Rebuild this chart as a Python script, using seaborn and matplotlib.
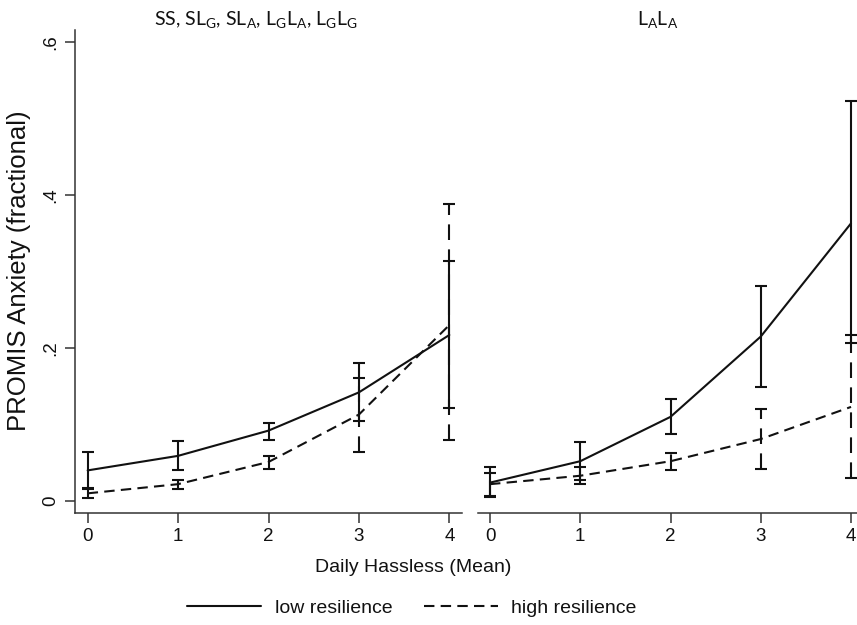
import numpy as np
import pandas as pd
import seaborn as sns
import matplotlib.pyplot as plt
from matplotlib.lines import Line2D

hassles = [0, 1, 2, 3, 4]
panel_titles = [
    "SS, SL$_\\mathregular{G}$, SL$_\\mathregular{A}$, "
    "L$_\\mathregular{G}$L$_\\mathregular{A}$, L$_\\mathregular{G}$L$_\\mathregular{G}$",
    "L$_\\mathregular{A}$L$_\\mathregular{A}$",
]
series_names = ["low resilience", "high resilience"]

# left panel: SS, SL_G, SL_A, L_GL_A, L_GL_G
low_mean_a = [0.040, 0.059, 0.092, 0.142, 0.217]
low_lo_a = [0.016, 0.041, 0.080, 0.105, 0.122]
low_hi_a = [0.064, 0.078, 0.102, 0.180, 0.314]
high_mean_a = [0.010, 0.022, 0.051, 0.113, 0.230]
high_lo_a = [0.004, 0.016, 0.042, 0.064, 0.080]
high_hi_a = [0.017, 0.028, 0.059, 0.161, 0.388]

# right panel: L_AL_A
low_mean_b = [0.024, 0.052, 0.110, 0.215, 0.363]
low_lo_b = [0.005, 0.027, 0.088, 0.149, 0.206]
low_hi_b = [0.044, 0.077, 0.133, 0.281, 0.523]
high_mean_b = [0.022, 0.033, 0.052, 0.081, 0.123]
high_lo_b = [0.007, 0.022, 0.041, 0.042, 0.030]
high_hi_b = [0.037, 0.044, 0.063, 0.120, 0.217]

yticks = [0, 0.2, 0.4, 0.6]
ytick_labels = ["0", ".2", ".4", ".6"]

panels = [
    {"low": (low_mean_a, low_lo_a, low_hi_a), "high": (high_mean_a, high_lo_a, high_hi_a)},
    {"low": (low_mean_b, low_lo_b, low_hi_b), "high": (high_mean_b, high_lo_b, high_hi_b)},
]

rows = []
for p, pan in enumerate(panels):
    for key, name in zip(["low", "high"], series_names):
        mean, lo, hi = pan[key]
        for x, m, l, h in zip(hassles, mean, lo, hi):
            rows.append({"panel": p, "hassle": x, "anxiety": m, "lo": l, "hi": h, "resilience": name})
df = pd.DataFrame(rows)

sns.set_style("ticks")
plt.rcParams["font.family"] = ["Liberation Sans", "DejaVu Sans"]
plt.rcParams["lines.scale_dashes"] = True

W, H = 857, 625
fig = plt.figure(figsize=(W / 100, H / 100), dpi=100)

LW = 1.5
DASH = (5, 3)
spine_col = "#333333"
ink = "#111111"

ax_boxes = [(75, 462), (478, 857)]
xlims = [(-0.14, 4.14), (-0.133, 4.066)]
top_px, bot_px = 30, 513
title_cx = [256, 658]

for p, (x0, x1) in enumerate(ax_boxes):
    ax = fig.add_axes([x0 / W, 1 - bot_px / H, (x1 - x0) / W, (bot_px - top_px) / H])
    sub = df[df.panel == p]
    sns.lineplot(data=sub, x="hassle", y="anxiety", style="resilience",
                 style_order=series_names, dashes={series_names[0]: "", series_names[1]: DASH},
                 color=ink, linewidth=LW, legend=False, ax=ax, errorbar=None)
    for name, dashed in zip(series_names, [False, True]):
        s = sub[sub.resilience == name]
        err = [s.anxiety - s.lo, s.hi - s.anxiety]
        eb = ax.errorbar(s.hassle, s.anxiety, yerr=err, fmt="none", ecolor=ink,
                         elinewidth=LW, capsize=4.5, capthick=LW, clip_on=False)
        if dashed:
            eb[2][0].set_linestyle((0, (5 * LW, 3 * LW)))
        for c in eb[1]:
            c.set_clip_on(False)
    ax.set_xlim(*xlims[p])
    ax.set_ylim(-0.0157, 0.6157)
    ax.set_xticks(hassles)
    ax.set_xticklabels([str(h) for h in hassles])
    ax.set_xlabel("")
    ax.set_ylabel("")
    ax.tick_params(axis="both", length=7, width=1.1, color=spine_col, labelsize=13.5,
                   labelcolor=ink, pad=4)
    sns.despine(ax=ax, top=True, right=True, left=(p == 1))
    for sp in ["left", "bottom"]:
        ax.spines[sp].set_color(spine_col)
        ax.spines[sp].set_linewidth(1.1)
    if p == 0:
        ax.set_yticks(yticks)
        ax.set_yticklabels(ytick_labels)
        for t in ax.get_yticklabels():
            t.set_rotation(90)
            t.set_va("center")
    else:
        ax.set_yticks([])
    fig.text(title_cx[p] / W, 1 - 20 / H, panel_titles[p], ha="center", va="center",
             fontsize=14, family=["Lato", "DejaVu Sans"], color=ink)

fig.text(19 / W, 1 - 271 / H, "PROMIS Anxiety (fractional)", rotation=90,
         ha="center", va="center", fontsize=18.5, color=ink)
fig.text(413 / W, 1 - 568 / H, "Daily Hassless (Mean)", ha="center", va="center",
         fontsize=14, color=ink)

handles = [Line2D([], [], color=ink, lw=LW),
           Line2D([], [], color=ink, lw=LW, dashes=DASH)]
fig.legend(handles, series_names, loc="center", bbox_to_anchor=(412 / W, 1 - 608 / H),
           ncol=2, frameon=False, fontsize=14, handlelength=3.8, handletextpad=0.7,
           columnspacing=1.6, borderaxespad=0, borderpad=0, labelcolor=ink)

fig.savefig("out.png", dpi=100)
